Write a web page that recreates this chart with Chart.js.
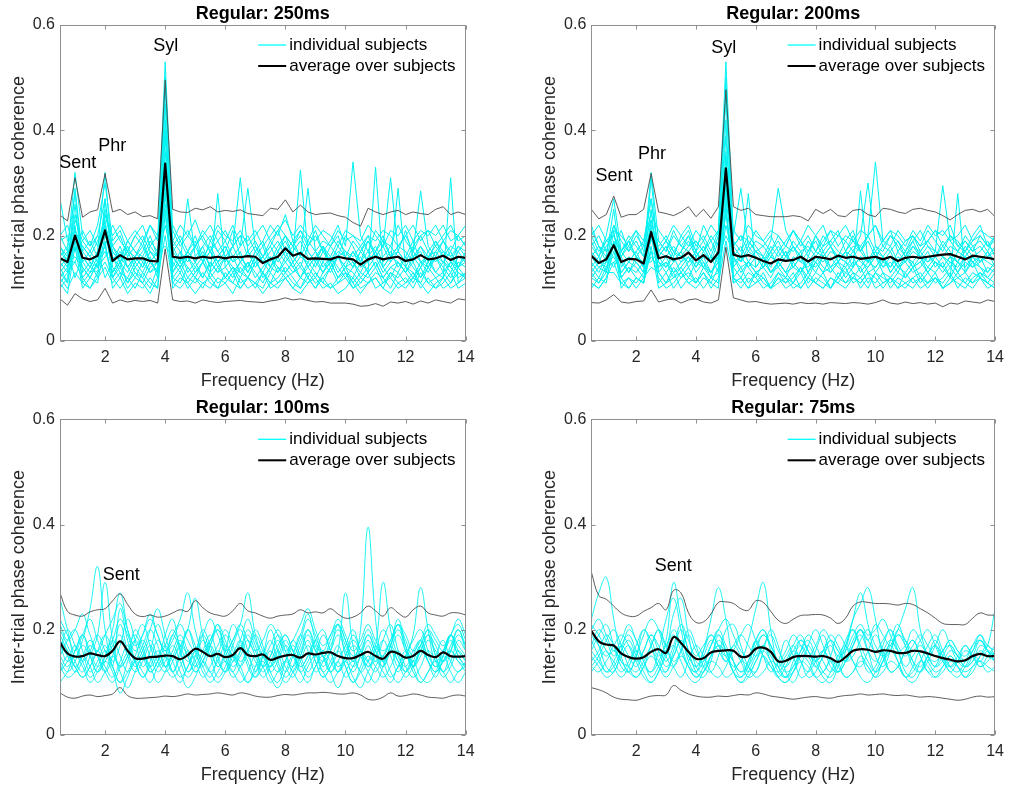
<!DOCTYPE html>
<html><head><meta charset="utf-8">
<script src="https://cdn.jsdelivr.net/npm/chart.js@4.4.0/dist/chart.umd.min.js"></script>
<style>
html,body{margin:0;padding:0;background:#fff;}
#wrap{position:relative;width:1011px;height:791px;background:#fff;overflow:hidden;}
canvas{position:absolute;}
</style></head><body>
<div id="wrap">
<canvas id="c0" width="505" height="395" style="left:0px;top:0px"></canvas>
<canvas id="c1" width="505" height="395" style="left:506px;top:0px"></canvas>
<canvas id="c2" width="505" height="395" style="left:0px;top:395px"></canvas>
<canvas id="c3" width="505" height="395" style="left:506px;top:395px"></canvas>
</div>
<script>
// ---------- data ----------
const freqHz = [0.5,0.75,1,1.25,1.5,1.75,2,2.25,2.5,2.75,3,3.25,3.5,3.75,4,4.25,4.5,4.75,5,5.25,5.5,5.75,6,6.25,6.5,6.75,7,7.25,7.5,7.75,8,8.25,8.5,8.75,9,9.25,9.5,9.75,10,10.25,10.5,10.75,11,11.25,11.5,11.75,12,12.25,12.5,12.75,13,13.25,13.5,13.75,14];
const xTickHz = [2,4,6,8,10,12,14];
const xTickLabels = ['2','4','6','8','10','12','14'];
const yTickVals = [0,0.2,0.4,0.6];
const yTickLabels = ['0','0.2','0.4','0.6'];
const titles = ['Regular: 250ms','Regular: 200ms','Regular: 100ms','Regular: 75ms'];
const legendLabels = ['individual subjects','average over subjects'];
const xAxisTitle = 'Frequency (Hz)';
const yAxisTitle = 'Inter-trial phase coherence';

// 250 ms
const avg250 = [0.157,0.15,0.2,0.158,0.155, 0.162,0.21,0.152,0.163,0.155, 0.157,0.157,0.152,0.151,0.337, 0.16,0.158,0.16,0.157,0.16, 0.158,0.16,0.157,0.16,0.159, 0.161,0.16,0.148,0.155,0.16, 0.176,0.162,0.167,0.156,0.157, 0.156,0.155,0.16,0.157,0.155, 0.145,0.155,0.16,0.155,0.158, 0.16,0.152,0.155,0.163,0.155, 0.157,0.162,0.154,0.16,0.158];
const upper250 = [0.239,0.228,0.31,0.235,0.245, 0.249,0.318,0.245,0.25,0.24, 0.245,0.236,0.238,0.232,0.495, 0.25,0.245,0.244,0.252,0.249, 0.255,0.245,0.248,0.246,0.249, 0.242,0.24,0.238,0.252,0.25, 0.268,0.245,0.258,0.245,0.24, 0.242,0.243,0.238,0.235,0.225, 0.218,0.252,0.245,0.24,0.245, 0.248,0.24,0.245,0.242,0.24, 0.25,0.255,0.24,0.245,0.24];
const lower250 = [0.08,0.068,0.09,0.08,0.075, 0.078,0.1,0.072,0.078,0.074, 0.077,0.075,0.077,0.072,0.175, 0.078,0.075,0.076,0.072,0.078, 0.075,0.073,0.075,0.076,0.077, 0.075,0.074,0.073,0.076,0.078, 0.082,0.078,0.08,0.077,0.074, 0.075,0.072,0.072,0.072,0.07, 0.066,0.067,0.071,0.066,0.074, 0.072,0.075,0.07,0.076,0.072, 0.078,0.075,0.072,0.08,0.078];
const subjects250 = [
[0.2,0.17,0.32,0.2,0.18, 0.22,0.3,0.19,0.21,0.17, 0.2,0.18,0.22,0.19,0.53, 0.21,0.18,0.2,0.23,0.19, 0.17,0.21,0.19,0.22,0.18, 0.2,0.17,0.19,0.22,0.2, 0.24,0.19,0.21,0.18,0.2, 0.17,0.19,0.22,0.18,0.34, 0.2,0.17,0.21,0.19,0.18, 0.22,0.19,0.17,0.2,0.21, 0.18,0.2,0.22,0.19,0.2],
[0.15,0.13,0.29,0.16,0.14, 0.17,0.32,0.15,0.18,0.14, 0.16,0.19,0.15,0.13,0.48, 0.17,0.15,0.27,0.16,0.18, 0.14,0.16,0.18,0.15,0.17, 0.13,0.16,0.18,0.14,0.17, 0.19,0.16,0.325,0.17,0.15, 0.18,0.14,0.16,0.17,0.15, 0.13,0.16,0.18,0.15,0.17, 0.14,0.16,0.19,0.15,0.14, 0.17,0.15,0.13,0.16,0.15],
[0.12,0.14,0.26,0.13,0.15, 0.12,0.27,0.14,0.12,0.16, 0.13,0.11,0.14,0.15,0.45, 0.13,0.16,0.14,0.12,0.15, 0.13,0.28,0.14,0.12,0.15, 0.13,0.16,0.12,0.14,0.13, 0.16,0.14,0.12,0.15,0.13, 0.11,0.14,0.16,0.13,0.12, 0.15,0.13,0.33,0.14,0.12, 0.15,0.13,0.11,0.14,0.16, 0.13,0.12,0.15,0.13,0.12],
[0.18,0.16,0.24,0.17,0.19, 0.16,0.25,0.18,0.2,0.16, 0.18,0.2,0.17,0.16,0.42, 0.19,0.17,0.15,0.18,0.2, 0.17,0.19,0.16,0.18,0.31, 0.17,0.19,0.16,0.18,0.21, 0.17,0.19,0.16,0.29,0.17, 0.19,0.18,0.16,0.2,0.18, 0.15,0.19,0.17,0.2,0.16, 0.18,0.2,0.17,0.285,0.18, 0.16,0.19,0.17,0.2,0.18],
[0.1,0.12,0.22,0.11,0.13, 0.14,0.23,0.12,0.15,0.11, 0.13,0.12,0.1,0.14,0.39, 0.12,0.11,0.14,0.12,0.1, 0.13,0.11,0.12,0.14,0.11, 0.12,0.1,0.13,0.11,0.12, 0.14,0.12,0.1,0.13,0.11, 0.12,0.14,0.11,0.13,0.1, 0.12,0.11,0.13,0.12,0.1, 0.13,0.11,0.12,0.14,0.11, 0.1,0.12,0.31,0.11,0.13],
[0.27,0.19,0.21,0.18,0.16, 0.19,0.22,0.17,0.15,0.19, 0.17,0.16,0.19,0.17,0.36, 0.18,0.2,0.17,0.15,0.18, 0.2,0.17,0.19,0.16,0.18, 0.29,0.18,0.16,0.19,0.17, 0.2,0.18,0.16,0.19,0.17, 0.15,0.18,0.2,0.16,0.19, 0.17,0.19,0.16,0.18,0.31, 0.17,0.15,0.18,0.2,0.17, 0.19,0.16,0.18,0.17,0.19],
[0.14,0.11,0.2,0.15,0.13, 0.16,0.21,0.13,0.15,0.17, 0.14,0.16,0.13,0.15,0.34, 0.14,0.17,0.13,0.15,0.12, 0.15,0.13,0.16,0.14,0.12, 0.15,0.13,0.11,0.14,0.16, 0.13,0.15,0.17,0.14,0.12, 0.15,0.13,0.16,0.14,0.15, 0.12,0.14,0.16,0.13,0.15, 0.29,0.14,0.12,0.15,0.13, 0.16,0.14,0.12,0.15,0.14],
[0.16,0.14,0.19,0.12,0.14, 0.13,0.2,0.16,0.13,0.12, 0.15,0.13,0.16,0.12,0.31, 0.15,0.13,0.16,0.14,0.12, 0.15,0.13,0.14,0.16,0.13, 0.12,0.15,0.13,0.16,0.14, 0.13,0.15,0.12,0.14,0.16, 0.13,0.15,0.12,0.14,0.13, 0.11,0.13,0.15,0.12,0.14, 0.13,0.16,0.14,0.12,0.15, 0.13,0.15,0.14,0.12,0.13],
[0.11,0.09,0.18,0.1,0.12, 0.11,0.19,0.1,0.12,0.09, 0.11,0.1,0.12,0.1,0.29, 0.1,0.12,0.11,0.09,0.11, 0.12,0.1,0.11,0.09,0.12, 0.1,0.11,0.09,0.11,0.1, 0.12,0.1,0.09,0.11,0.12, 0.1,0.11,0.09,0.1,0.12, 0.1,0.11,0.12,0.1,0.09, 0.11,0.1,0.12,0.11,0.09, 0.11,0.12,0.1,0.11,0.12],
[0.19,0.2,0.17,0.21,0.18, 0.2,0.18,0.22,0.19,0.17, 0.2,0.22,0.18,0.2,0.27, 0.22,0.19,0.21,0.18,0.2, 0.22,0.19,0.21,0.18,0.2, 0.19,0.21,0.18,0.2,0.22, 0.2,0.18,0.21,0.19,0.22, 0.2,0.18,0.21,0.19,0.2, 0.18,0.2,0.19,0.21,0.2, 0.18,0.2,0.22,0.19,0.21, 0.2,0.22,0.19,0.2,0.18],
[0.13,0.15,0.16,0.14,0.12, 0.15,0.17,0.13,0.16,0.14, 0.12,0.15,0.13,0.14,0.25, 0.13,0.15,0.12,0.14,0.16, 0.13,0.15,0.12,0.14,0.13, 0.15,0.12,0.14,0.16,0.13, 0.15,0.13,0.14,0.12,0.15, 0.13,0.16,0.14,0.12,0.14, 0.16,0.13,0.15,0.12,0.14, 0.15,0.13,0.15,0.12,0.14, 0.16,0.13,0.15,0.14,0.16],
[0.17,0.15,0.15,0.18,0.16, 0.14,0.16,0.18,0.15,0.17, 0.16,0.14,0.17,0.15,0.22, 0.16,0.14,0.17,0.19,0.15, 0.17,0.15,0.16,0.18,0.15, 0.17,0.15,0.16,0.14,0.17, 0.15,0.17,0.19,0.16,0.14, 0.17,0.15,0.16,0.14,0.17, 0.15,0.17,0.14,0.16,0.18, 0.16,0.14,0.17,0.15,0.16, 0.18,0.16,0.14,0.17,0.15],
[0.12,0.1,0.13,0.11,0.1, 0.12,0.14,0.11,0.13,0.1, 0.12,0.11,0.09,0.12,0.2, 0.11,0.13,0.1,0.12,0.11, 0.1,0.12,0.11,0.13,0.1, 0.12,0.11,0.1,0.13,0.11, 0.12,0.1,0.12,0.11,0.13, 0.11,0.1,0.12,0.13,0.11, 0.09,0.11,0.12,0.1,0.13, 0.11,0.12,0.1,0.13,0.11, 0.12,0.1,0.11,0.13,0.12],
[0.15,0.17,0.12,0.16,0.14, 0.17,0.12,0.15,0.17,0.14, 0.16,0.18,0.15,0.17,0.18, 0.16,0.14,0.17,0.15,0.17, 0.14,0.16,0.18,0.15,0.16, 0.14,0.17,0.15,0.13,0.16, 0.18,0.15,0.17,0.14,0.16, 0.18,0.15,0.17,0.16,0.14, 0.17,0.15,0.17,0.14,0.16, 0.17,0.15,0.16,0.14,0.17, 0.15,0.17,0.16,0.14,0.17],
[0.16,0.18,0.28,0.15,0.17, 0.2,0.27,0.16,0.14,0.18, 0.15,0.17,0.2,0.16,0.5, 0.18,0.15,0.17,0.2,0.16, 0.18,0.15,0.17,0.21,0.16, 0.14,0.17,0.19,0.15,0.18, 0.2,0.16,0.14,0.18,0.21, 0.17,0.15,0.18,0.16,0.14, 0.17,0.2,0.16,0.18,0.15, 0.17,0.21,0.16,0.18,0.15, 0.19,0.17,0.15,0.18,0.16],
[0.13,0.11,0.19,0.14,0.12, 0.15,0.18,0.12,0.14,0.11, 0.14,0.12,0.15,0.13,0.4, 0.12,0.14,0.11,0.13,0.15, 0.12,0.14,0.12,0.11,0.14, 0.12,0.15,0.13,0.11,0.14, 0.12,0.13,0.15,0.12,0.1, 0.13,0.15,0.12,0.14,0.11, 0.13,0.12,0.14,0.11,0.13, 0.12,0.14,0.13,0.11,0.14, 0.12,0.13,0.11,0.14,0.12],
[0.2,0.22,0.17,0.19,0.21, 0.18,0.24,0.2,0.22,0.19, 0.21,0.19,0.22,0.2,0.3, 0.19,0.22,0.2,0.18,0.21, 0.19,0.22,0.2,0.19,0.21, 0.18,0.2,0.22,0.19,0.21, 0.23,0.2,0.22,0.2,0.19, 0.21,0.2,0.18,0.21,0.2, 0.19,0.22,0.2,0.18,0.21, 0.2,0.22,0.19,0.21,0.2, 0.22,0.19,0.21,0.2,0.22],
[0.14,0.16,0.21,0.17,0.15, 0.14,0.22,0.17,0.15,0.13, 0.16,0.14,0.17,0.15,0.28, 0.16,0.14,0.16,0.13,0.15, 0.17,0.14,0.16,0.13,0.15, 0.17,0.14,0.16,0.18,0.15, 0.17,0.14,0.16,0.15,0.17, 0.14,0.16,0.13,0.15,0.17, 0.14,0.15,0.17,0.14,0.16, 0.15,0.13,0.16,0.17,0.14, 0.16,0.15,0.17,0.14,0.15],
[0.11,0.13,0.15,0.12,0.1, 0.13,0.15,0.12,0.1,0.12, 0.1,0.13,0.11,0.1,0.24, 0.11,0.1,0.12,0.11,0.13, 0.11,0.1,0.13,0.11,0.1, 0.12,0.11,0.13,0.1,0.11, 0.13,0.11,0.1,0.12,0.1, 0.12,0.1,0.11,0.12,0.1, 0.11,0.13,0.1,0.11,0.12, 0.1,0.11,0.13,0.1,0.12, 0.1,0.11,0.13,0.1,0.11],
[0.18,0.15,0.23,0.19,0.17, 0.15,0.24,0.18,0.16,0.19, 0.17,0.15,0.18,0.16,0.26, 0.17,0.19,0.16,0.18,0.15, 0.19,0.17,0.15,0.18,0.2, 0.16,0.18,0.15,0.17,0.19, 0.16,0.18,0.2,0.17,0.15, 0.18,0.16,0.19,0.17,0.16, 0.18,0.15,0.17,0.19,0.16, 0.18,0.17,0.15,0.18,0.16, 0.17,0.19,0.16,0.18,0.17]
];
const notes250 = [['Sent',1.09,0.328],['Phr',2.24,0.36],['Syl',4.02,0.55]];

// 200 ms
const avg200 = [0.162,0.148,0.155,0.182,0.15, 0.156,0.155,0.147,0.207,0.157, 0.161,0.155,0.158,0.168,0.153, 0.163,0.15,0.168,0.328,0.164, 0.16,0.163,0.158,0.152,0.147, 0.155,0.152,0.154,0.16,0.151, 0.16,0.158,0.155,0.162,0.158, 0.16,0.156,0.158,0.16,0.155, 0.16,0.152,0.158,0.16,0.158, 0.16,0.162,0.164,0.165,0.16, 0.155,0.162,0.16,0.158,0.155];
const upper200 = [0.25,0.232,0.24,0.275,0.235, 0.24,0.24,0.25,0.318,0.245, 0.242,0.238,0.245,0.255,0.236, 0.25,0.233,0.255,0.477,0.255, 0.248,0.252,0.24,0.238,0.236, 0.236,0.236,0.238,0.236,0.228, 0.25,0.242,0.25,0.238,0.236, 0.248,0.25,0.24,0.236,0.252, 0.25,0.245,0.242,0.25,0.252, 0.248,0.245,0.238,0.23,0.24, 0.248,0.25,0.245,0.25,0.236];
const lower200 = [0.073,0.072,0.078,0.088,0.074, 0.072,0.075,0.076,0.097,0.074, 0.078,0.08,0.072,0.078,0.08, 0.074,0.072,0.078,0.178,0.082, 0.078,0.074,0.075,0.072,0.07, 0.071,0.072,0.07,0.073,0.071, 0.072,0.07,0.073,0.072,0.071, 0.073,0.072,0.07,0.073,0.078, 0.072,0.07,0.074,0.071,0.073, 0.07,0.072,0.065,0.072,0.07, 0.076,0.074,0.072,0.078,0.075];
const subjects200 = [
[0.19,0.16,0.2,0.27,0.17, 0.2,0.18,0.16,0.32,0.19, 0.17,0.21,0.18,0.2,0.17, 0.22,0.19,0.21,0.53,0.2, 0.29,0.18,0.21,0.19,0.17, 0.2,0.18,0.21,0.19,0.17, 0.2,0.22,0.18,0.2,0.19, 0.21,0.17,0.2,0.34,0.19, 0.18,0.21,0.19,0.2,0.17, 0.19,0.21,0.18,0.2,0.19, 0.17,0.2,0.22,0.18,0.2],
[0.15,0.13,0.16,0.25,0.14, 0.16,0.15,0.13,0.31,0.15, 0.14,0.16,0.13,0.15,0.17, 0.14,0.16,0.15,0.5,0.17, 0.15,0.28,0.14,0.16,0.13, 0.15,0.17,0.14,0.16,0.15, 0.13,0.16,0.14,0.15,0.17, 0.14,0.285,0.15,0.16,0.14, 0.15,0.13,0.16,0.14,0.15, 0.17,0.14,0.16,0.15,0.13, 0.16,0.14,0.15,0.17,0.14],
[0.22,0.18,0.17,0.22,0.19, 0.17,0.2,0.18,0.27,0.17, 0.19,0.16,0.2,0.22,0.18, 0.2,0.17,0.21,0.46,0.19, 0.17,0.2,0.18,0.16,0.19, 0.29,0.21,0.18,0.16,0.19, 0.17,0.2,0.18,0.16,0.19, 0.17,0.2,0.3,0.18,0.17, 0.2,0.18,0.16,0.19,0.21, 0.18,0.17,0.295,0.19,0.17, 0.2,0.18,0.19,0.17,0.2],
[0.12,0.14,0.13,0.21,0.12, 0.14,0.13,0.15,0.25,0.13, 0.15,0.12,0.14,0.16,0.13, 0.15,0.12,0.17,0.42,0.14, 0.12,0.15,0.13,0.14,0.12, 0.15,0.13,0.11,0.14,0.12, 0.15,0.13,0.14,0.12,0.15, 0.13,0.12,0.14,0.16,0.13, 0.12,0.14,0.13,0.15,0.12, 0.14,0.13,0.15,0.12,0.28, 0.13,0.15,0.12,0.14,0.13],
[0.17,0.15,0.18,0.2,0.16, 0.18,0.16,0.14,0.23,0.16, 0.18,0.15,0.17,0.19,0.16, 0.18,0.15,0.17,0.39,0.16, 0.18,0.15,0.17,0.16,0.14, 0.17,0.15,0.18,0.16,0.15, 0.17,0.16,0.18,0.15,0.17, 0.16,0.18,0.15,0.17,0.16, 0.14,0.17,0.15,0.18,0.16, 0.15,0.17,0.16,0.14,0.17, 0.16,0.18,0.15,0.16,0.17],
[0.1,0.12,0.11,0.19,0.1, 0.12,0.11,0.13,0.22,0.11, 0.13,0.1,0.12,0.14,0.11, 0.13,0.11,0.14,0.36,0.12, 0.1,0.12,0.11,0.13,0.1, 0.12,0.11,0.13,0.1,0.12, 0.11,0.13,0.1,0.12,0.14, 0.11,0.12,0.1,0.13,0.11, 0.12,0.1,0.13,0.11,0.12, 0.1,0.12,0.11,0.13,0.1, 0.12,0.11,0.13,0.12,0.11],
[0.2,0.17,0.19,0.18,0.16, 0.19,0.21,0.17,0.21,0.19, 0.17,0.2,0.18,0.17,0.19, 0.17,0.2,0.18,0.33,0.18, 0.2,0.17,0.19,0.18,0.2, 0.17,0.19,0.21,0.18,0.2, 0.17,0.19,0.21,0.18,0.2, 0.19,0.17,0.2,0.22,0.18, 0.2,0.19,0.17,0.2,0.18, 0.21,0.19,0.17,0.2,0.18, 0.19,0.17,0.2,0.18,0.19],
[0.14,0.12,0.15,0.18,0.13, 0.15,0.14,0.12,0.2,0.14, 0.16,0.13,0.15,0.17,0.14, 0.16,0.13,0.15,0.3,0.14, 0.16,0.14,0.12,0.15,0.13, 0.14,0.12,0.15,0.17,0.13, 0.16,0.14,0.13,0.15,0.12, 0.14,0.16,0.13,0.14,0.16, 0.13,0.15,0.12,0.14,0.16, 0.13,0.15,0.14,0.12,0.15, 0.13,0.16,0.14,0.12,0.14],
[0.18,0.2,0.17,0.18,0.21, 0.17,0.19,0.16,0.19,0.18, 0.2,0.17,0.19,0.21,0.17, 0.19,0.16,0.2,0.28,0.18, 0.2,0.19,0.17,0.15,0.18, 0.16,0.18,0.17,0.19,0.16, 0.2,0.17,0.19,0.21,0.17, 0.19,0.18,0.2,0.17,0.19, 0.21,0.17,0.19,0.2,0.18, 0.19,0.21,0.2,0.22,0.18, 0.17,0.19,0.2,0.18,0.17],
[0.11,0.1,0.12,0.17,0.12, 0.1,0.12,0.11,0.18,0.1, 0.11,0.13,0.1,0.12,0.11, 0.13,0.1,0.12,0.26,0.11, 0.12,0.1,0.13,0.11,0.1, 0.12,0.1,0.11,0.13,0.1, 0.12,0.11,0.1,0.12,0.11, 0.13,0.1,0.12,0.11,0.13, 0.1,0.12,0.11,0.1,0.12, 0.11,0.13,0.1,0.12,0.11, 0.1,0.12,0.13,0.11,0.1],
[0.16,0.14,0.15,0.16,0.13, 0.15,0.17,0.14,0.17,0.16, 0.14,0.17,0.15,0.16,0.14, 0.17,0.15,0.16,0.24,0.15, 0.16,0.14,0.16,0.15,0.17, 0.14,0.16,0.15,0.13,0.16, 0.15,0.17,0.14,0.16,0.15, 0.17,0.15,0.14,0.16,0.15, 0.17,0.14,0.16,0.15,0.17, 0.15,0.16,0.14,0.16,0.15, 0.14,0.16,0.15,0.17,0.15],
[0.13,0.15,0.14,0.15,0.16, 0.13,0.15,0.13,0.16,0.14, 0.15,0.13,0.14,0.12,0.15, 0.14,0.16,0.13,0.22,0.16, 0.14,0.15,0.13,0.14,0.16, 0.15,0.13,0.14,0.16,0.13, 0.15,0.13,0.16,0.14,0.13, 0.15,0.14,0.16,0.13,0.15, 0.14,0.16,0.15,0.13,0.14, 0.16,0.15,0.13,0.15,0.14, 0.16,0.15,0.14,0.13,0.15],
[0.21,0.18,0.16,0.14,0.17, 0.19,0.16,0.15,0.15,0.17, 0.16,0.18,0.16,0.15,0.17, 0.15,0.13,0.16,0.2,0.17, 0.15,0.17,0.16,0.14,0.16, 0.15,0.13,0.16,0.15,0.14, 0.16,0.15,0.17,0.16,0.15, 0.14,0.16,0.15,0.17,0.14, 0.16,0.14,0.15,0.17,0.16, 0.14,0.16,0.18,0.16,0.15, 0.17,0.15,0.16,0.15,0.14],
[0.12,0.11,0.13,0.13,0.11, 0.12,0.1,0.12,0.14,0.13, 0.11,0.12,0.13,0.11,0.12, 0.1,0.12,0.11,0.19,0.12, 0.11,0.13,0.12,0.1,0.11, 0.13,0.12,0.11,0.1,0.12, 0.11,0.1,0.12,0.11,0.13, 0.12,0.11,0.13,0.12,0.1, 0.12,0.11,0.1,0.12,0.13, 0.11,0.12,0.1,0.11,0.12, 0.13,0.11,0.12,0.1,0.11],
[0.16,0.18,0.15,0.22,0.17, 0.15,0.17,0.19,0.27,0.16, 0.18,0.15,0.17,0.2,0.16, 0.18,0.15,0.19,0.48,0.17, 0.15,0.18,0.16,0.14,0.17, 0.19,0.16,0.18,0.15,0.17, 0.19,0.16,0.18,0.15,0.17, 0.2,0.17,0.15,0.18,0.16, 0.18,0.15,0.17,0.19,0.16, 0.18,0.16,0.19,0.17,0.15, 0.18,0.16,0.17,0.19,0.16],
[0.13,0.11,0.14,0.18,0.12, 0.14,0.12,0.11,0.2,0.13, 0.11,0.14,0.12,0.13,0.11, 0.14,0.12,0.13,0.35,0.12, 0.14,0.11,0.13,0.12,0.1, 0.13,0.11,0.12,0.14,0.11, 0.13,0.12,0.1,0.13,0.11, 0.12,0.14,0.11,0.13,0.12, 0.11,0.13,0.12,0.14,0.11, 0.13,0.11,0.12,0.14,0.12, 0.11,0.13,0.12,0.11,0.13],
[0.2,0.22,0.19,0.21,0.2, 0.18,0.21,0.19,0.24,0.21, 0.19,0.22,0.2,0.18,0.21, 0.19,0.22,0.2,0.31,0.21, 0.19,0.22,0.2,0.19,0.21, 0.2,0.18,0.21,0.19,0.22, 0.2,0.18,0.21,0.2,0.22, 0.19,0.21,0.2,0.22,0.19, 0.21,0.2,0.18,0.21,0.19, 0.22,0.2,0.21,0.19,0.2, 0.22,0.19,0.21,0.2,0.19],
[0.14,0.16,0.13,0.19,0.15, 0.13,0.16,0.14,0.21,0.15, 0.13,0.15,0.17,0.14,0.16, 0.14,0.13,0.15,0.27,0.16, 0.13,0.15,0.14,0.16,0.13, 0.15,0.17,0.14,0.13,0.15, 0.14,0.16,0.13,0.15,0.14, 0.16,0.13,0.15,0.14,0.16, 0.13,0.15,0.17,0.14,0.15, 0.13,0.15,0.14,0.16,0.13, 0.15,0.14,0.16,0.13,0.15],
[0.11,0.1,0.12,0.15,0.11, 0.1,0.12,0.11,0.17,0.12, 0.1,0.11,0.13,0.11,0.1, 0.12,0.11,0.1,0.25,0.11, 0.12,0.1,0.11,0.12,0.1, 0.11,0.12,0.1,0.11,0.13, 0.11,0.1,0.12,0.11,0.1, 0.12,0.11,0.13,0.1,0.11, 0.12,0.1,0.11,0.12,0.1, 0.11,0.12,0.1,0.11,0.13, 0.11,0.1,0.12,0.11,0.1],
[0.18,0.16,0.19,0.2,0.17, 0.19,0.16,0.18,0.23,0.17, 0.19,0.17,0.16,0.18,0.19, 0.17,0.19,0.16,0.29,0.18, 0.16,0.19,0.17,0.18,0.16, 0.18,0.16,0.19,0.17,0.18, 0.16,0.18,0.19,0.17,0.16, 0.18,0.17,0.19,0.16,0.18, 0.17,0.19,0.16,0.18,0.17, 0.19,0.17,0.16,0.18,0.17, 0.19,0.17,0.18,0.16,0.18]
];
const notes200 = [['Sent',1.26,0.303],['Phr',2.53,0.345],['Syl',4.93,0.547]];

// 100 ms
const avg100 = [0.176,0.155,0.149,0.15,0.155, 0.152,0.15,0.16,0.178,0.16, 0.146,0.145,0.148,0.149,0.151, 0.15,0.144,0.152,0.164,0.158, 0.15,0.154,0.148,0.152,0.165, 0.152,0.15,0.153,0.143,0.147, 0.151,0.152,0.147,0.155,0.153, 0.156,0.157,0.15,0.146,0.146, 0.152,0.158,0.15,0.145,0.158, 0.155,0.147,0.15,0.16,0.152, 0.148,0.157,0.15,0.149,0.15];
const upper100 = [0.27,0.235,0.228,0.226,0.234, 0.238,0.24,0.255,0.268,0.248, 0.23,0.225,0.228,0.224,0.226, 0.232,0.238,0.235,0.255,0.242, 0.232,0.228,0.226,0.236,0.25, 0.236,0.232,0.226,0.222,0.226, 0.228,0.23,0.238,0.232,0.234, 0.232,0.24,0.23,0.222,0.224, 0.232,0.245,0.236,0.226,0.242, 0.232,0.224,0.238,0.245,0.232, 0.228,0.226,0.232,0.232,0.228];
const lower100 = [0.08,0.072,0.07,0.074,0.076, 0.073,0.075,0.078,0.09,0.075, 0.07,0.07,0.071,0.072,0.074, 0.073,0.075,0.078,0.076,0.077, 0.078,0.08,0.078,0.076,0.08, 0.078,0.074,0.072,0.072,0.075, 0.077,0.076,0.078,0.08,0.08, 0.081,0.08,0.078,0.078,0.08, 0.076,0.068,0.067,0.072,0.08, 0.074,0.075,0.078,0.076,0.072, 0.071,0.07,0.074,0.076,0.074];
const subjects100 = [
[0.26,0.2,0.15,0.18,0.24, 0.32,0.2,0.14,0.17,0.22, 0.18,0.13,0.16,0.21,0.17, 0.12,0.15,0.2,0.16,0.13, 0.17,0.21,0.15,0.12,0.16, 0.2,0.17,0.13,0.15,0.19, 0.16,0.12,0.15,0.2,0.17, 0.13,0.16,0.21,0.18,0.14, 0.2,0.395,0.22,0.14,0.17, 0.21,0.16,0.13,0.17,0.2, 0.15,0.12,0.16,0.2,0.17],
[0.2,0.17,0.14,0.12,0.15, 0.19,0.29,0.18,0.13,0.15, 0.2,0.17,0.12,0.14,0.19, 0.22,0.16,0.12,0.15,0.2, 0.17,0.13,0.16,0.21,0.18, 0.13,0.11,0.15,0.2,0.16, 0.12,0.15,0.19,0.16,0.12, 0.14,0.18,0.21,0.15,0.12, 0.15,0.19,0.16,0.13,0.17, 0.22,0.17,0.13,0.16,0.19, 0.15,0.12,0.14,0.18,0.16],
[0.17,0.14,0.16,0.19,0.15, 0.12,0.15,0.2,0.27,0.2, 0.14,0.11,0.14,0.18,0.15, 0.12,0.16,0.2,0.17,0.13, 0.11,0.15,0.19,0.16,0.13, 0.16,0.2,0.17,0.12,0.1, 0.14,0.18,0.15,0.12,0.15, 0.19,0.16,0.12,0.15,0.19, 0.16,0.13,0.16,0.2,0.17, 0.13,0.15,0.19,0.28,0.2, 0.14,0.16,0.19,0.15,0.13],
[0.15,0.18,0.2,0.16,0.12, 0.14,0.17,0.13,0.1,0.14, 0.18,0.21,0.17,0.13,0.15, 0.19,0.16,0.12,0.14,0.18, 0.15,0.11,0.13,0.17,0.2, 0.16,0.12,0.15,0.18,0.14, 0.11,0.13,0.17,0.2,0.16, 0.12,0.14,0.17,0.13,0.1, 0.13,0.17,0.14,0.18,0.21, 0.16,0.12,0.15,0.18,0.14, 0.11,0.15,0.19,0.16,0.14],
[0.13,0.11,0.12,0.15,0.13, 0.1,0.12,0.15,0.12,0.09, 0.12,0.15,0.13,0.1,0.12, 0.15,0.12,0.09,0.11,0.14, 0.12,0.1,0.12,0.15,0.13, 0.1,0.12,0.14,0.11,0.09, 0.12,0.15,0.12,0.1,0.13, 0.15,0.12,0.09,0.12,0.14, 0.12,0.1,0.13,0.15,0.12, 0.1,0.12,0.14,0.11,0.1, 0.12,0.15,0.12,0.1,0.12],
[0.22,0.19,0.16,0.19,0.22, 0.18,0.15,0.18,0.22,0.19, 0.16,0.19,0.23,0.19,0.16, 0.19,0.22,0.27,0.2,0.16, 0.18,0.21,0.18,0.15,0.18, 0.22,0.18,0.15,0.17,0.2, 0.17,0.15,0.18,0.22,0.19, 0.16,0.19,0.21,0.18,0.15, 0.17,0.2,0.17,0.15,0.18, 0.21,0.18,0.15,0.17,0.2, 0.18,0.16,0.19,0.21,0.18],
[0.12,0.14,0.17,0.14,0.11, 0.13,0.16,0.13,0.1,0.12, 0.15,0.18,0.15,0.12,0.14, 0.17,0.14,0.11,0.13,0.16, 0.19,0.15,0.12,0.14,0.17, 0.14,0.11,0.13,0.16,0.13, 0.1,0.12,0.15,0.18,0.14, 0.11,0.13,0.16,0.27,0.17, 0.12,0.14,0.17,0.14,0.11, 0.13,0.16,0.13,0.1,0.12, 0.15,0.18,0.14,0.12,0.14],
[0.18,0.16,0.13,0.11,0.13, 0.16,0.19,0.16,0.13,0.15, 0.18,0.15,0.12,0.14,0.17, 0.2,0.17,0.14,0.16,0.19, 0.16,0.13,0.15,0.18,0.21, 0.27,0.19,0.15,0.13,0.16, 0.19,0.16,0.13,0.15,0.18, 0.2,0.16,0.13,0.15,0.18, 0.16,0.14,0.17,0.29,0.2, 0.15,0.13,0.16,0.18,0.15, 0.13,0.16,0.19,0.17,0.15],
[0.1,0.12,0.15,0.13,0.1, 0.12,0.14,0.12,0.08,0.11, 0.14,0.12,0.1,0.13,0.15, 0.12,0.1,0.13,0.15,0.12, 0.1,0.12,0.14,0.12,0.1, 0.12,0.15,0.13,0.1,0.12, 0.14,0.12,0.1,0.13,0.15, 0.12,0.1,0.12,0.14,0.11, 0.09,0.12,0.14,0.12,0.1, 0.13,0.15,0.12,0.1,0.12, 0.14,0.12,0.1,0.12,0.13],
[0.16,0.2,0.17,0.14,0.16, 0.19,0.16,0.13,0.24,0.18, 0.14,0.16,0.2,0.24,0.19, 0.15,0.17,0.2,0.26,0.19, 0.15,0.17,0.2,0.17,0.14, 0.16,0.19,0.16,0.13,0.15, 0.18,0.16,0.19,0.23,0.18, 0.15,0.17,0.2,0.17,0.14, 0.16,0.19,0.16,0.14,0.17, 0.2,0.17,0.14,0.16,0.19, 0.17,0.14,0.16,0.19,0.17],
[0.14,0.12,0.14,0.17,0.15, 0.12,0.14,0.17,0.19,0.15, 0.12,0.14,0.17,0.14,0.12, 0.14,0.17,0.15,0.12,0.14, 0.17,0.14,0.12,0.15,0.18, 0.15,0.13,0.15,0.12,0.14, 0.17,0.15,0.12,0.14,0.17, 0.15,0.12,0.14,0.11,0.13, 0.16,0.14,0.12,0.15,0.17, 0.14,0.11,0.13,0.16,0.14, 0.12,0.14,0.16,0.14,0.12],
[0.19,0.16,0.13,0.15,0.18, 0.15,0.12,0.15,0.21,0.16, 0.13,0.15,0.18,0.15,0.13, 0.16,0.19,0.16,0.13,0.15, 0.18,0.2,0.17,0.14,0.16, 0.19,0.16,0.13,0.15,0.18, 0.15,0.13,0.16,0.19,0.16, 0.14,0.16,0.19,0.16,0.13, 0.15,0.18,0.15,0.13,0.16, 0.19,0.16,0.13,0.15,0.18, 0.16,0.14,0.17,0.2,0.16],
[0.15,0.13,0.16,0.19,0.16, 0.13,0.15,0.18,0.15,0.12, 0.14,0.17,0.2,0.17,0.13, 0.15,0.18,0.15,0.12,0.14, 0.17,0.2,0.16,0.13,0.15, 0.18,0.15,0.12,0.14,0.17, 0.19,0.16,0.13,0.15,0.18, 0.15,0.12,0.14,0.17,0.2, 0.16,0.13,0.15,0.18,0.15, 0.12,0.15,0.18,0.2,0.16, 0.13,0.15,0.18,0.15,0.13],
[0.12,0.15,0.13,0.11,0.13, 0.16,0.13,0.11,0.14,0.17, 0.14,0.11,0.13,0.16,0.13, 0.11,0.13,0.16,0.14,0.11, 0.13,0.16,0.14,0.11,0.13, 0.16,0.14,0.11,0.13,0.16, 0.13,0.11,0.14,0.17,0.14, 0.11,0.13,0.16,0.13,0.1, 0.12,0.15,0.13,0.11,0.13, 0.16,0.13,0.11,0.13,0.16, 0.14,0.11,0.13,0.16,0.14],
[0.21,0.18,0.2,0.23,0.19, 0.16,0.19,0.22,0.25,0.2, 0.17,0.19,0.22,0.19,0.16, 0.18,0.21,0.18,0.16,0.19, 0.22,0.19,0.16,0.18,0.21, 0.18,0.16,0.18,0.21,0.19, 0.16,0.18,0.21,0.24,0.2, 0.17,0.19,0.22,0.19,0.16, 0.18,0.21,0.18,0.16,0.18, 0.21,0.19,0.16,0.18,0.21, 0.19,0.17,0.19,0.22,0.19],
[0.17,0.15,0.12,0.14,0.17, 0.15,0.12,0.1,0.13,0.16, 0.19,0.16,0.13,0.15,0.17, 0.14,0.11,0.13,0.16,0.14, 0.12,0.14,0.17,0.15,0.12, 0.1,0.13,0.16,0.14,0.12, 0.14,0.17,0.14,0.11,0.13, 0.16,0.14,0.12,0.14,0.17, 0.15,0.12,0.1,0.13,0.16, 0.14,0.12,0.14,0.17,0.14, 0.12,0.14,0.16,0.14,0.13]
];
const notes100 = [['Sent',2.54,0.295]];

// 75 ms
const avg75 = [0.198,0.178,0.172,0.17,0.155, 0.148,0.145,0.148,0.158,0.163, 0.156,0.186,0.175,0.158,0.145, 0.146,0.157,0.16,0.161,0.16, 0.149,0.15,0.164,0.166,0.158, 0.14,0.141,0.148,0.15,0.15, 0.149,0.15,0.146,0.139,0.148, 0.16,0.163,0.162,0.158,0.161, 0.16,0.156,0.156,0.16,0.159, 0.155,0.15,0.146,0.143,0.14, 0.142,0.15,0.154,0.15,0.15];
const upper75 = [0.31,0.265,0.258,0.245,0.232, 0.226,0.226,0.235,0.242,0.25, 0.238,0.275,0.27,0.232,0.214, 0.215,0.23,0.252,0.253,0.25, 0.24,0.237,0.255,0.252,0.235, 0.218,0.212,0.22,0.227,0.228, 0.229,0.228,0.222,0.212,0.222, 0.245,0.253,0.252,0.25,0.25, 0.249,0.247,0.25,0.248,0.24, 0.232,0.222,0.212,0.21,0.21, 0.21,0.222,0.232,0.228,0.228];
const lower75 = [0.09,0.086,0.08,0.072,0.068, 0.067,0.066,0.07,0.074,0.075, 0.076,0.094,0.085,0.078,0.074, 0.072,0.072,0.074,0.073,0.075, 0.077,0.076,0.08,0.078,0.074, 0.072,0.07,0.068,0.07,0.072, 0.073,0.071,0.07,0.073,0.075, 0.076,0.078,0.076,0.077,0.078, 0.076,0.075,0.076,0.074,0.072, 0.073,0.072,0.07,0.068,0.066, 0.068,0.072,0.074,0.072,0.073];
const subjects75 = [
[0.22,0.27,0.3,0.22,0.15, 0.12,0.15,0.2,0.17,0.13, 0.12,0.16,0.2,0.16,0.12, 0.11,0.14,0.19,0.16,0.12, 0.11,0.14,0.18,0.15,0.12, 0.14,0.18,0.15,0.11,0.12, 0.16,0.19,0.15,0.12,0.14, 0.18,0.2,0.16,0.12,0.14, 0.18,0.21,0.17,0.13,0.12, 0.15,0.18,0.15,0.12,0.14, 0.17,0.15,0.13,0.15,0.17],
[0.2,0.17,0.13,0.12,0.16, 0.2,0.18,0.14,0.12,0.16, 0.22,0.26,0.2,0.14,0.12, 0.16,0.22,0.28,0.22,0.14, 0.11,0.13,0.18,0.2,0.16, 0.12,0.11,0.14,0.18,0.16, 0.13,0.12,0.15,0.19,0.17, 0.14,0.13,0.16,0.19,0.16, 0.12,0.13,0.16,0.18,0.15, 0.12,0.13,0.16,0.17,0.15, 0.13,0.14,0.17,0.16,0.14],
[0.16,0.19,0.21,0.17,0.13, 0.12,0.15,0.19,0.22,0.2, 0.15,0.13,0.16,0.2,0.17, 0.13,0.12,0.15,0.2,0.21, 0.17,0.13,0.12,0.16,0.2, 0.17,0.12,0.1,0.13,0.17, 0.2,0.17,0.13,0.12,0.16, 0.22,0.27,0.21,0.15,0.13, 0.16,0.2,0.18,0.14,0.12, 0.14,0.17,0.2,0.17,0.14, 0.13,0.15,0.18,0.16,0.14],
[0.13,0.15,0.18,0.2,0.17, 0.13,0.11,0.13,0.17,0.2, 0.17,0.23,0.26,0.19,0.13, 0.12,0.15,0.18,0.16,0.13, 0.14,0.18,0.24,0.29,0.2, 0.13,0.11,0.13,0.16,0.18, 0.15,0.12,0.11,0.14,0.18, 0.2,0.16,0.12,0.13,0.17, 0.2,0.16,0.12,0.11,0.14, 0.17,0.19,0.16,0.13,0.12, 0.14,0.17,0.19,0.16,0.14],
[0.18,0.15,0.12,0.13,0.16, 0.18,0.15,0.12,0.1,0.12, 0.16,0.2,0.17,0.13,0.11, 0.13,0.17,0.19,0.16,0.12, 0.1,0.12,0.15,0.17,0.14, 0.11,0.1,0.12,0.15,0.17, 0.14,0.11,0.1,0.13,0.17, 0.22,0.25,0.28,0.22,0.15, 0.12,0.13,0.16,0.18,0.15, 0.12,0.11,0.13,0.15,0.13, 0.11,0.12,0.15,0.17,0.15],
[0.21,0.19,0.16,0.14,0.12, 0.14,0.17,0.2,0.18,0.15, 0.18,0.29,0.22,0.16,0.14, 0.13,0.15,0.17,0.16,0.14, 0.12,0.14,0.17,0.19,0.17, 0.14,0.13,0.15,0.17,0.15, 0.13,0.15,0.18,0.16,0.14, 0.15,0.18,0.2,0.17,0.15, 0.17,0.2,0.24,0.28,0.2, 0.15,0.13,0.15,0.17,0.15, 0.14,0.16,0.18,0.16,0.15],
[0.15,0.13,0.11,0.12,0.15, 0.17,0.14,0.11,0.1,0.12, 0.15,0.17,0.14,0.11,0.1, 0.12,0.15,0.17,0.15,0.12, 0.1,0.11,0.14,0.16,0.14, 0.11,0.1,0.12,0.15,0.14, 0.11,0.1,0.12,0.15,0.17, 0.14,0.11,0.1,0.12,0.15, 0.17,0.14,0.11,0.1,0.12, 0.15,0.17,0.14,0.12,0.11, 0.13,0.15,0.14,0.12,0.13],
[0.2,0.22,0.19,0.16,0.18, 0.21,0.18,0.15,0.17,0.2, 0.17,0.14,0.16,0.19,0.16, 0.14,0.17,0.2,0.22,0.19, 0.16,0.15,0.18,0.2,0.17, 0.14,0.16,0.19,0.17,0.15, 0.17,0.2,0.18,0.15,0.16, 0.19,0.21,0.19,0.2,0.22, 0.19,0.16,0.17,0.2,0.18, 0.15,0.14,0.16,0.18,0.16, 0.14,0.16,0.19,0.17,0.16],
[0.12,0.14,0.16,0.13,0.11, 0.13,0.16,0.14,0.11,0.13, 0.16,0.13,0.11,0.14,0.17, 0.15,0.12,0.11,0.13,0.16, 0.14,0.11,0.12,0.15,0.13, 0.11,0.13,0.16,0.14,0.11, 0.12,0.15,0.17,0.14,0.11, 0.12,0.15,0.13,0.11,0.14, 0.16,0.14,0.11,0.13,0.16, 0.14,0.12,0.13,0.15,0.13, 0.11,0.13,0.15,0.17,0.24],
[0.17,0.2,0.18,0.15,0.17, 0.15,0.13,0.16,0.19,0.16, 0.13,0.15,0.18,0.15,0.13, 0.16,0.19,0.17,0.14,0.16, 0.19,0.21,0.18,0.15,0.13, 0.12,0.14,0.17,0.19,0.16, 0.14,0.16,0.19,0.17,0.14, 0.17,0.2,0.18,0.21,0.19, 0.17,0.19,0.18,0.16,0.18, 0.2,0.17,0.14,0.13,0.15, 0.17,0.15,0.14,0.16,0.15],
[0.14,0.16,0.19,0.17,0.14, 0.13,0.12,0.14,0.16,0.14, 0.12,0.15,0.18,0.15,0.13, 0.15,0.18,0.16,0.14,0.17, 0.15,0.12,0.14,0.17,0.15, 0.13,0.15,0.17,0.14,0.12, 0.14,0.16,0.14,0.12,0.14, 0.17,0.19,0.16,0.14,0.16, 0.18,0.16,0.13,0.15,0.17, 0.15,0.13,0.14,0.16,0.15, 0.13,0.14,0.16,0.15,0.14],
[0.16,0.14,0.12,0.14,0.17, 0.19,0.16,0.13,0.12,0.14, 0.17,0.19,0.16,0.13,0.12, 0.14,0.17,0.2,0.17,0.14, 0.12,0.13,0.16,0.19,0.17, 0.14,0.12,0.13,0.16,0.19, 0.17,0.14,0.12,0.14,0.17, 0.2,0.17,0.14,0.12,0.14, 0.16,0.19,0.17,0.14,0.13, 0.15,0.17,0.15,0.13,0.14, 0.16,0.15,0.13,0.14,0.16],
[0.19,0.17,0.15,0.17,0.19, 0.17,0.14,0.16,0.19,0.17, 0.14,0.17,0.21,0.18,0.15, 0.17,0.19,0.17,0.15,0.17, 0.19,0.17,0.15,0.17,0.19, 0.16,0.14,0.16,0.18,0.16, 0.14,0.16,0.18,0.16,0.14, 0.17,0.2,0.18,0.16,0.18, 0.2,0.17,0.15,0.17,0.19, 0.17,0.15,0.16,0.18,0.16, 0.15,0.17,0.18,0.16,0.15],
[0.13,0.12,0.14,0.16,0.14, 0.12,0.11,0.13,0.15,0.13, 0.11,0.13,0.15,0.13,0.11, 0.12,0.14,0.13,0.11,0.12, 0.14,0.13,0.11,0.12,0.14, 0.13,0.11,0.12,0.14,0.13, 0.11,0.12,0.14,0.13,0.11, 0.12,0.14,0.13,0.11,0.12, 0.14,0.13,0.11,0.12,0.14, 0.13,0.11,0.12,0.14,0.13, 0.12,0.13,0.14,0.13,0.12]
];
const notes75 = [['Sent',3.24,0.311]];

// ---------- drawing ----------
const FONT = '"Liberation Sans", Arial, Helvetica, sans-serif';
const CYAN = '#00f2f2';
const GREY = '#4a4a4a';
const AXIS = '#8f8f8f';

const panels = [
  {id:'c0', title:titles[0], avg:avg250, up:upper250, lo:lower250, subs:subjects250, notes:notes250, padL:60,   padT:25,   padR:39.3, xH:54, tension:0,   sw:1.0},
  {id:'c1', title:titles[1], avg:avg200, up:upper200, lo:lower200, subs:subjects200, notes:notes200, padL:85.3, padT:25,   padR:13.7, xH:54, tension:0,   sw:1.0},
  {id:'c2', title:titles[2], avg:avg100, up:upper100, lo:lower100, subs:subjects100, notes:notes100, padL:60,   padT:24.3, padR:39.3, xH:55, tension:0.4, sw:0.9},
  {id:'c3', title:titles[3], avg:avg75,  up:upper75,  lo:lower75,  subs:subjects75,  notes:notes75,  padL:85.3, padT:24.3, padR:13.7, xH:55, tension:0.4, sw:0.9}
];

const pts = arr => freqHz.map((f,i)=>({x:f, y:arr[i]}));

function makeDecor(p){
  return {
    id:'decor',
    afterDraw(chart){
      const ctx = chart.ctx, a = chart.chartArea, xs = chart.scales.x, ys = chart.scales.y;
      ctx.save();
      ctx.strokeStyle = AXIS; ctx.lineWidth = 1;
      const L = Math.round(a.left)+0.5, R = Math.round(a.right)-0.5, T = Math.round(a.top)+0.5, B = Math.round(a.bottom)-0.5;
      ctx.strokeRect(L, T, R-L, B-T);
      ctx.beginPath();
      xTickHz.forEach(v=>{ const px = Math.round(xs.getPixelForValue(v))+0.5; ctx.moveTo(px,B); ctx.lineTo(px,B-4); ctx.moveTo(px,T); ctx.lineTo(px,T+4); });
      yTickVals.forEach(v=>{ const py = Math.round(ys.getPixelForValue(v))+0.5; ctx.moveTo(L,py); ctx.lineTo(L+4,py); ctx.moveTo(R,py); ctx.lineTo(R-4,py); });
      ctx.stroke();
      ctx.fillStyle = '#000';
      ctx.font = 'bold 18px ' + FONT;
      ctx.textAlign = 'center'; ctx.textBaseline = 'alphabetic';
      ctx.fillText(p.title, (a.left+a.right)/2, a.top - 6.5);
      ctx.fillStyle = '#262626';
      ctx.font = '18px ' + FONT;
      ctx.fillText(xAxisTitle, (a.left+a.right)/2, a.bottom + 45);
      ctx.save();
      ctx.translate(a.left - 36.5, (a.top+a.bottom)/2);
      ctx.rotate(-Math.PI/2);
      ctx.fillText(yAxisTitle, 0, 0);
      ctx.restore();
      ctx.fillStyle = '#000';
      ctx.font = '18px ' + FONT;
      p.notes.forEach(n=>{ ctx.fillText(n[0], xs.getPixelForValue(n[1]), ys.getPixelForValue(n[2])); });
      const lx = a.right - 207.5;
      ctx.lineWidth = 1.3; ctx.strokeStyle = '#00ffff';
      ctx.beginPath(); ctx.moveTo(lx, a.top+20); ctx.lineTo(lx+28, a.top+20); ctx.stroke();
      ctx.lineWidth = 2; ctx.strokeStyle = '#000';
      ctx.beginPath(); ctx.moveTo(lx, a.top+41); ctx.lineTo(lx+28, a.top+41); ctx.stroke();
      ctx.font = '17px ' + FONT; ctx.textAlign = 'left'; ctx.textBaseline = 'middle';
      ctx.fillText(legendLabels[0], lx+31, a.top+20);
      ctx.fillText(legendLabels[1], lx+31, a.top+41);
      ctx.restore();
    }
  };
}

panels.forEach(p=>{
  const datasets = [];
  datasets.push({data:pts(p.avg), borderColor:'#000', borderWidth:2.2, order:0, tension:p.tension});
  datasets.push({data:pts(p.up), borderColor:GREY, borderWidth:0.9, order:1, tension:p.tension});
  datasets.push({data:pts(p.lo), borderColor:GREY, borderWidth:0.9, order:1, tension:p.tension});
  p.subs.forEach(s=>datasets.push({data:pts(s), borderColor:CYAN, borderWidth:p.sw, order:2, tension:p.tension}));
  new Chart(document.getElementById(p.id), {
    type:'line',
    data:{datasets},
    options:{
      responsive:false, animation:false, devicePixelRatio:1, events:[],
      layout:{padding:{left:0, top:p.padT, right:p.padR, bottom:0}},
      elements:{point:{radius:0}, line:{borderJoinStyle:'round', fill:false}},
      plugins:{legend:{display:false}, title:{display:false}, tooltip:{enabled:false}},
      scales:{
        x:{type:'linear', min:0.5, max:14,
           grid:{display:false, drawTicks:false}, border:{display:false},
           afterBuildTicks:s=>{ s.ticks = xTickHz.map(v=>({value:v})); },
           afterFit:s=>{ s.height = p.xH; },
           ticks:{font:{family:FONT, size:16}, color:'#262626', padding:7, maxRotation:0, minRotation:0, autoSkip:false,
                  callback:(v,i)=>xTickLabels[i]}},
        y:{type:'linear', min:0, max:0.6,
           grid:{display:false, drawTicks:false}, border:{display:false},
           afterBuildTicks:s=>{ s.ticks = yTickVals.map(v=>({value:v})); },
           afterFit:s=>{ s.width = p.padL; },
           ticks:{font:{family:FONT, size:16}, color:'#262626', padding:5,
                  callback:(v,i)=>yTickLabels[i]}}
      }
    },
    plugins:[makeDecor(p)]
  });
});
</script>
</body></html>
